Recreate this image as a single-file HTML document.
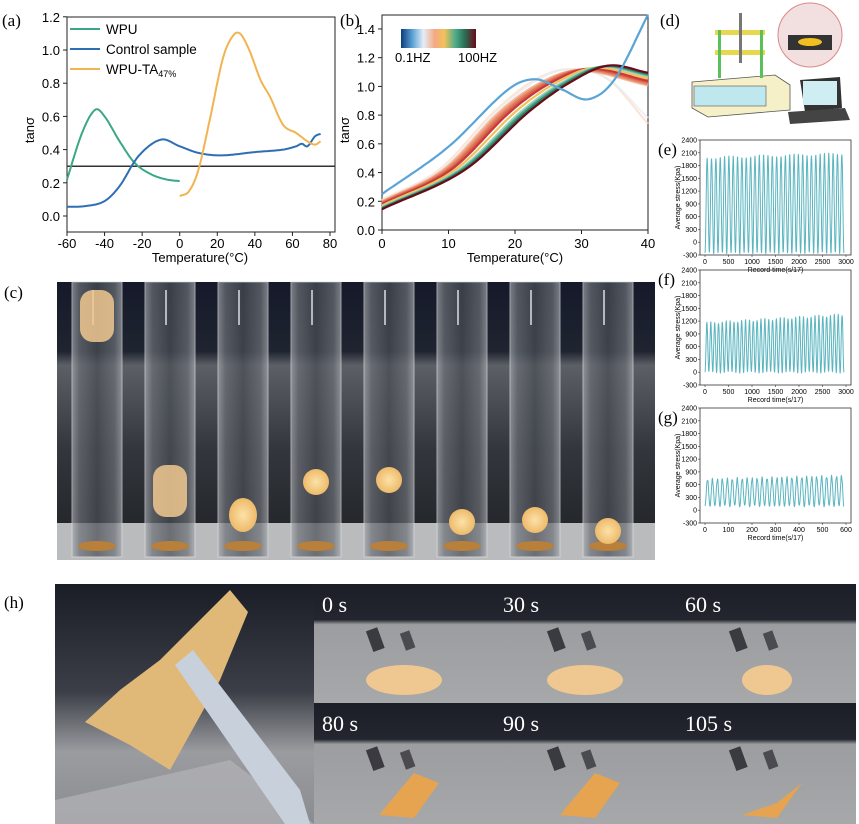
<!DOCTYPE html>
<html><head><meta charset="utf-8">
<style>
html,body{margin:0;padding:0;background:#fff;}
svg{display:block;font-family:"Liberation Sans",sans-serif;}
.s{font-family:"Liberation Serif",serif;}
</style></head>
<body>
<svg id="c" width="859" height="824" viewBox="0 0 859 824" xmlns="http://www.w3.org/2000/svg">
<defs>
<linearGradient id="cb" x1="0" x2="1"><stop offset="0" stop-color="#0d3e7a"/><stop offset="0.15" stop-color="#5aa0d4"/><stop offset="0.3" stop-color="#e3eef7"/><stop offset="0.45" stop-color="#f5a882"/><stop offset="0.58" stop-color="#f2c15a"/><stop offset="0.72" stop-color="#4fae8c"/><stop offset="0.85" stop-color="#2a6f55"/><stop offset="1" stop-color="#6a0a1a"/></linearGradient>
<linearGradient id="bg" x1="0" y1="0" x2="0" y2="1"><stop offset="0" stop-color="#15192a"/><stop offset="0.25" stop-color="#1f2430"/><stop offset="0.3" stop-color="#5c6066"/><stop offset="0.6" stop-color="#33373d"/><stop offset="1" stop-color="#1d2024"/></linearGradient>
<linearGradient id="tube" x1="0" x2="1"><stop offset="0" stop-color="#a6a9ae"/><stop offset="0.15" stop-color="#6d7177"/><stop offset="0.5" stop-color="#4a4e55"/><stop offset="0.85" stop-color="#6d7177"/><stop offset="1" stop-color="#a6a9ae"/></linearGradient>
<radialGradient id="ball"><stop offset="0" stop-color="#fbe2a8"/><stop offset="1" stop-color="#eeba6a"/></radialGradient>
<linearGradient id="hbg" x1="0" y1="0" x2="0" y2="1"><stop offset="0" stop-color="#1a1d26"/><stop offset="0.45" stop-color="#3c3f47"/><stop offset="0.7" stop-color="#9a9ca0"/><stop offset="1" stop-color="#8a8c90"/></linearGradient>
<linearGradient id="cell" x1="0" y1="0" x2="0" y2="1"><stop offset="0" stop-color="#1b1e26"/><stop offset="0.3" stop-color="#23262e"/><stop offset="0.34" stop-color="#9c9da0"/><stop offset="1" stop-color="#a7a8aa"/></linearGradient>
</defs>
<g id="g"></g>
</svg>
<script>
var g=document.getElementById('g'),h='';
function P(pts,col,w,op){return '<polyline fill="none" stroke="'+col+'" stroke-width="'+(w||2)+'" stroke-opacity="'+(op||1)+'" stroke-linejoin="round" points="'+pts.map(function(p){return p[0].toFixed(1)+','+p[1].toFixed(1)}).join(' ')+'"/>';}
function T(x,y,t,s,a,extra){return '<text x="'+x+'" y="'+y+'" font-size="'+s+'" text-anchor="'+(a||'start')+'" '+(extra||'')+'>'+t+'</text>';}
function interp(a,x){var n=a.length;for(var i=0;i<n-1;i++){if(x>=a[i][0]&&x<=a[i+1][0]){var x0=a[i][0],x1=a[i+1][0],d=x1-x0,t=(x-x0)/d;
 var m0=i>0?(a[i+1][1]-a[i-1][1])/(a[i+1][0]-a[i-1][0]):(a[1][1]-a[0][1])/(a[1][0]-a[0][0]);
 var m1=i<n-2?(a[i+2][1]-a[i][1])/(a[i+2][0]-a[i][0]):(a[n-1][1]-a[n-2][1])/(a[n-1][0]-a[n-2][0]);
 var t2=t*t,t3=t2*t;return (2*t3-3*t2+1)*a[i][1]+(t3-2*t2+t)*d*m0+(-2*t3+3*t2)*a[i+1][1]+(t3-t2)*d*m1;}}return a[n-1][1];}
function curve(arr,X,Y,x0,x1){var o=[];for(var x=x0;x<=x1+1e-9;x+=0.5)o.push([X(x),Y(interp(arr,x))]);return o;}
// panel a
var ax=function(t){return 67+(t+60)*263/140},ay=function(v){return 216-v*166};
h+='<rect x="67" y="17" width="268" height="215" fill="none" stroke="#222" stroke-width="1"/>';
h+='<line x1="67" y1="'+ay(0.3)+'" x2="335" y2="'+ay(0.3)+'" stroke="#333" stroke-width="1.5"/>';
for(var t=-60;t<=80;t+=20){h+='<line x1="'+ax(t)+'" y1="232" x2="'+ax(t)+'" y2="236" stroke="#222"/>'+T(ax(t),248,t,13,'middle');}
for(var v=0;v<=1.2001;v+=0.2){h+='<line x1="63" y1="'+ay(v)+'" x2="67" y2="'+ay(v)+'" stroke="#222"/>'+T(60,ay(v)+5,v.toFixed(1),13,'end');}
h+=T(200,262,'Temperature(°C)',13,'middle');
h+=T(34,130,'tanσ',13,'middle','transform="rotate(-90 34 130)"');
h+=T(2,26,'(a)',17,'start','class="s"');
h+=P(curve([[-60,0.22],[-52,0.5],[-45,0.64],[-40,0.6],[-32,0.45],[-24,0.32],[-15,0.25],[-7,0.22],[0,0.21]],ax,ay,-60,0),'#3aa888');
h+=P(curve([[-60,0.055],[-50,0.06],[-40,0.09],[-32,0.18],[-22,0.36],[-10,0.46],[0,0.42],[10,0.38],[22,0.365],[40,0.385],[55,0.4],[62,0.42],[65,0.435],[68,0.42],[72,0.48],[75,0.495]],ax,ay,-60,75),'#2e6fb4');
h+=P(curve([[0,0.12],[5,0.15],[10,0.28],[16,0.58],[23,0.95],[28,1.08],[32,1.1],[37,1.0],[43,0.82],[48,0.72],[55,0.55],[62,0.5],[68,0.45],[72,0.43],[75,0.45]],ax,ay,0,75),'#f2b450');
var lg=[['#3aa888','WPU',29],['#2e6fb4','Control sample',49],['#f2b450','WPU-TA<tspan font-size="9" dy="3">47%</tspan>',69]];
lg.forEach(function(l){h+='<line x1="70" y1="'+l[2]+'" x2="100" y2="'+l[2]+'" stroke="'+l[0]+'" stroke-width="2"/>'+T(106,l[2]+5,l[1],13.5);});
// panel b
var bx=function(t){return 382+t*266/40},by=function(v){return 230-v*143.6};
h+='<rect x="382" y="15" width="266" height="215" fill="none" stroke="#222"/>';
for(var t=0;t<=40;t+=10){h+='<line x1="'+bx(t)+'" y1="230" x2="'+bx(t)+'" y2="234" stroke="#222"/>'+T(bx(t),248,t,13,'middle');}
for(var v=0;v<=1.4001;v+=0.2){h+='<line x1="378" y1="'+by(v)+'" x2="382" y2="'+by(v)+'" stroke="#222"/>'+T(375,by(v)+5,v.toFixed(1),13,'end');}
h+=T(515,262,'Temperature(°C)',13,'middle');
h+=T(349,130,'tanσ',13,'middle','transform="rotate(-90 349 130)"');
h+=T(340,26,'(b)',17,'start','class="s"');
var cols=['#fcd9c4','#e6eef2','#f4b596','#ec9575','#e07a5c','#d5604a','#c8383a','#f2c15a','#9fcfc2','#4fae8c','#2a7f65','#6a0a1a'];
var sh=[1,1.5,2,2.5,3,3.5,4,5,6,6.5,7,7.5];
cols.forEach(function(c,i){var s=sh[i];var base=0.22-0.01*s;var top=1.1+0.006*s;
 var pk=28+s*0.8;
 var arr=[[0,base],[8+s*0.6,0.42+0.0],[16+s*0.8,0.82],[22+s*0.8,1.02],[pk,top],[40,top-0.05-0.01*(7.5-s)]];
 if(i<2)arr=[[0,base],[8+s*0.6,0.42],[16+s*0.8,0.82],[22+s*0.8,1.04],[28,1.12],[34,1.05],[40,i?0.78:0.74]];
 h+=P(curve(arr,bx,by,0,40),c,2.2,i<2?0.7:1);});
h+=P(curve([[0,0.25],[10,0.58],[19,0.98],[23,1.05],[27,0.98],[31,0.91],[35,1.05],[40,1.5]],bx,by,0,40),'#5aa4d6',2.2);
h+='<rect x="401" y="29" width="75" height="19" fill="url(#cb)"/>'+T(395,62,'0.1HZ',13)+T(458,62,'100HZ',13);
// panel d
h+=T(660,26,'(d)',17,'start','class="s"');
h+='<polygon points="692,82 775,75 790,85 790,110 708,117 692,108" fill="#f6f0c8" stroke="#555" stroke-width="0.8"/><rect x="694" y="86" width="72" height="20" fill="#bfe7ee" stroke="#555" stroke-width="0.6"/>';
h+='<rect x="715" y="30" width="50" height="5" fill="#e8d850"/><rect x="715" y="50" width="50" height="5" fill="#e8d850"/><rect x="718" y="30" width="3" height="48" fill="#5ac05a"/><rect x="760" y="30" width="3" height="48" fill="#5ac05a"/><rect x="739" y="13" width="3" height="50" fill="#777"/>';
h+='<circle cx="810" cy="35" r="32" fill="#f2dfe0" stroke="#d88" stroke-width="1"/><rect x="788" y="35" width="44" height="15" fill="#333"/><ellipse cx="810" cy="42" rx="12" ry="4" fill="#f0c020"/>';
h+='<polygon points="800,80 840,77 842,108 805,112" fill="#333"/><rect x="803" y="81" width="34" height="24" fill="#cfeef3"/><polygon points="788,112 845,108 850,120 790,124" fill="#444"/>';
function stress(y0,xmax,cycles,ymin,ymax,label,tickList,drift){
 var X0=700,X1=851,Y0=y0,Y1=y0+115,yv=function(v){return Y0+(2400-v)*115/2700};
 h+='<rect x="'+X0+'" y="'+Y0+'" width="'+(X1-X0)+'" height="'+(Y1-Y0)+'" fill="none" stroke="#333" stroke-width="0.8"/>';
 for(var v=-300;v<=2400;v+=300)h+='<line x1="'+(X0-2)+'" y1="'+yv(v)+'" x2="'+X0+'" y2="'+yv(v)+'" stroke="#333" stroke-width="0.6"/>'+T(X0-3,yv(v)+2.5,v,7,'end');
 tickList.forEach(function(t){var x=X0+5+t*(X1-X0-10)/xmax;h+='<line x1="'+x+'" y1="'+Y1+'" x2="'+x+'" y2="'+(Y1+2)+'" stroke="#333" stroke-width="0.6"/>'+T(x,Y1+9,t,7,'middle');});
 h+=T((X0+X1)/2,Y1+17,'Record time(s/17)',7,'middle');
 h+=T(X0-20,(Y0+Y1)/2,'Average stress(Kpa)',7,'middle','transform="rotate(-90 '+(X0-20)+' '+((Y0+Y1)/2)+')"');
 h+=T(X0-42,Y0+15,label,17,'start','class="s"');
 var pts=[];for(var i=0;i<=900;i++){var f=i/900;var hi=ymax+drift*f+30*Math.sin(i*0.7),lo=ymin+20*Math.sin(i*0.3);var c=(1-Math.cos(2*Math.PI*cycles*f))/2;pts.push([X0+5+f*(X1-X0-12),yv(lo+(hi-lo)*c)]);}
 h+=P(pts,'#5ab5c0',1);
}
stress(140,3000,32,-250,1980,'(e)',[0,500,1000,1500,2000,2500,3000],100);
stress(270,3000,36,0,1150,'(f)',[0,500,1000,1500,2000,2500,3000],200);
stress(408,600,28,100,720,'(g)',[0,100,200,300,400,500,600],80);
// panel c
h+=T(4,298,'(c)',17,'start','class="s"');
h+='<rect x="57" y="282" width="598" height="278" fill="url(#bg)"/>';
h+='<rect x="57" y="523" width="598" height="37" fill="#b9bbbd"/>';
var balls=[[0,315,'blur'],[1,490,'blur'],[2,515,'e'],[3,482,'b'],[4,480,'b'],[5,522,'b'],[6,520,'b'],[7,531,'b']];
for(var i=0;i<8;i++){var x=72+i*73;h+='<rect x="'+x+'" y="282" width="50" height="275" fill="url(#tube)" opacity="0.7" stroke="#d8dadd" stroke-width="1"/><ellipse cx="'+(x+25)+'" cy="546" rx="19" ry="5" fill="#b8803a"/><rect x="'+(x+20)+'" y="290" width="2" height="35" fill="#e8e8ee" opacity="0.7"/>';}
balls.forEach(function(b){var x=72+b[0]*73+25;if(b[2]=='blur')h+='<rect x="'+(x-17)+'" y="'+(b[1]-25)+'" width="34" height="52" rx="13" fill="#f0c890" opacity="0.85"/>';else if(b[2]=='e')h+='<ellipse cx="'+x+'" cy="'+b[1]+'" rx="14" ry="17" fill="url(#ball)"/>';else h+='<circle cx="'+x+'" cy="'+b[1]+'" r="13" fill="url(#ball)"/>';});
// panel h
h+=T(4,608,'(h)',17,'start','class="s"');
h+='<rect x="55" y="584" width="259" height="240" fill="url(#hbg)"/>';
h+='<polygon points="55,800 230,760 314,824 55,824" fill="#b0b0b4" opacity="0.8"/>';
h+='<polygon points="85,722 120,690 160,660 200,620 230,590 248,612 220,680 170,770 130,745" fill="#e0b878"/>';
h+='<polygon points="175,665 193,650 300,790 310,824 285,824" fill="#c8d0dc"/>';
var labs=['0 s','30 s','60 s','80 s','90 s','105 s'];
for(var r=0;r<2;r++)for(var c=0;c<3;c++){var x=[314,495,677][c],w=[181,182,179][c],y=[584,703][r];h+='<rect x="'+x+'" y="'+y+'" width="'+w+'" height="'+(r?121:119)+'" fill="url(#cell)"/>';h+=T(x+8,y+28,labs[r*3+c],22,'start','class="s" fill="#fff"');
 h+='<rect x="'+(x+55)+'" y="'+(y+45)+'" width="12" height="22" fill="#3a3a40" transform="rotate(-20 '+(x+60)+' '+(y+55)+')"/><rect x="'+(x+88)+'" y="'+(y+48)+'" width="10" height="18" fill="#4a4a50" transform="rotate(-20 '+(x+92)+' '+(y+55)+')"/>';
 if(r==0)h+='<ellipse cx="'+(x+90)+'" cy="'+(y+96)+'" rx="'+(c==2?25:38)+'" ry="15" fill="#eec890"/>';
 else h+='<polygon points="'+(x+65)+','+(y+112)+' '+(x+100)+','+(y+70-(c==2?-30:0))+' '+(x+125)+','+(y+80)+' '+(x+100)+','+(y+115)+'" fill="#e6a450"/>';}
g.innerHTML=h;
</script>
</body></html>
